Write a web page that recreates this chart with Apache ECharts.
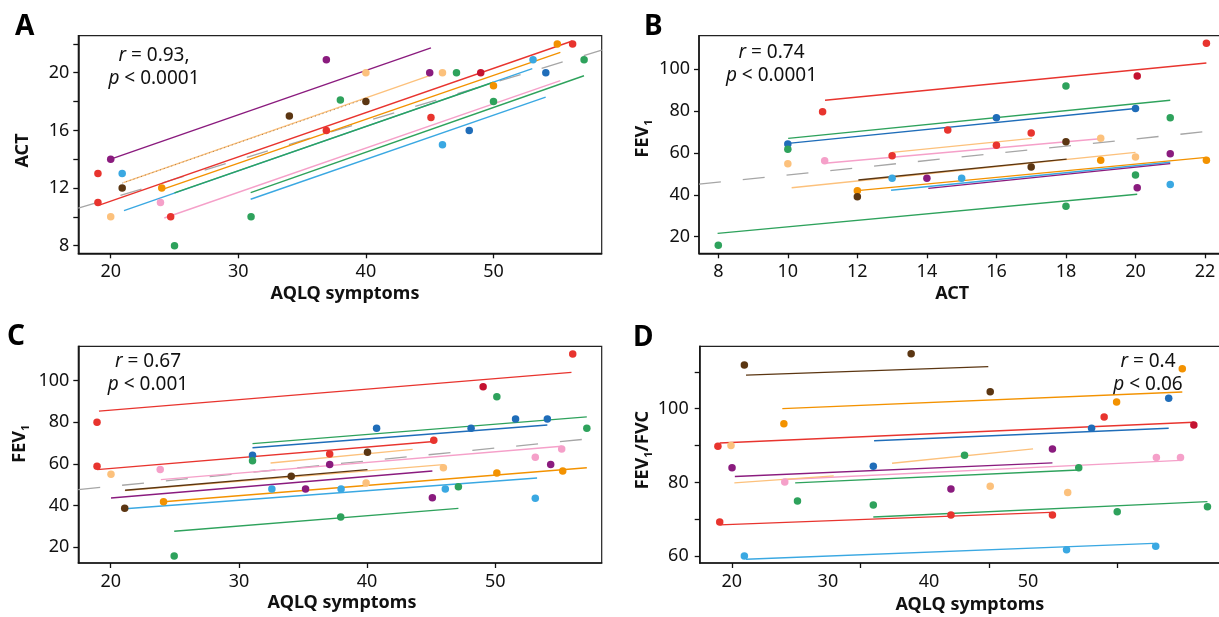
<!DOCTYPE html>
<html><head><meta charset="utf-8">
<script src="https://cdn.jsdelivr.net/npm/echarts@6/dist/echarts.min.js"></script>
<style>html,body{margin:0;padding:0;background:#fff}#c{width:1219px;height:617px}</style>
</head><body><div id="c"></div>
<script>
// ---------- data ----------
// points: [subject-colour group, x, y]
const A_points = [
['red',19,13],['red',19,11],['purple',20,14],['lorange',20,10],['lblue',20.9,13],['brown',20.9,12],['orange',24,12],['pink',23.9,11],['red',24.7,10],['green',25,8],['green',31,10],['brown',34,17],['purple',36.9,20.9],['red',36.9,16],['green',38,18.1],['lorange',40,20],['brown',40,18],['red',45.1,16.9],['purple',45,20],['lorange',46,20],['lblue',46,15],['green',47.1,20],['dblue',48.1,16],['dred',49,20],['orange',50,19.1],['green',50,18],['lblue',53.1,20.9],['dblue',54.1,20],['orange',55,22],['red',56.2,22],['green',57.1,20.9]
];
// fitted lines: [group, x1, y1, x2, y2]
const A_lines = [
['purple',20,14.0,45.1,21.73],['lorange',21.0,12.37,45.1,19.84],['brown',20.9,12.34,40.0,18.2],['red',19.16,10.83,56.18,22.2],['orange',23.94,11.87,55.24,21.41],['lblue',21.04,10.43,53.04,20.28],['green',25.0,11.66,50.0,19.34],['pink',24.2,9.92,55.24,19.45],['green',30.97,11.68,57.09,19.79],['lblue',30.97,11.22,54.09,18.31]
];
const A_overall = [17.46,10.6,58.48,21.57];

const B_points = [
['red',11,79.7],['red',14.6,71],['dblue',10,64.3],['green',10,61.8],['lorange',10,54.9],['pink',11.06,56.3],['red',13,58.7],['lblue',13,47.9],['purple',14,47.9],['lblue',15,47.9],['orange',12,42],['brown',12,39.1],['green',8,15.9],
['red',22.04,112.4],['dred',20.05,96.8],['green',18,92],['dblue',16,76.9],['dblue',20,81.3],['green',21,76.9],['red',17,69.6],['red',16,63.7],['brown',18,65.4],['lorange',19,67],['orange',19,56.5],['lorange',20,58.1],['purple',21,59.7],['orange',22.04,56.5],['brown',17,53.3],['green',20,49.5],['purple',20.05,43.4],['lblue',21,45],['green',18,34.5]
];
const B_lines = [
['red',11.07,85.2,22.04,103.0],['green',10.01,67.0,21.0,85.2],['dblue',10.01,64.6,20.0,81.3],['lorange',13.0,60.3,17.02,67.0],['pink',11.06,55.1,18.98,66.8],['lorange',10.11,43.4,20.0,60.3],['brown',12.03,47.1,18.02,57.1],['orange',12.0,42.0,22.04,57.9],['lblue',12.97,42.2,21.0,55.6],['purple',14.04,43.1,21.0,54.9],['green',7.98,21.6,20.05,40.3]
];
const B_overall = [7.445,45.1,22.5,71.05];

const C_points = [
['red',18.93,80],['red',18.93,58.9],['lorange',20.02,55.1],['pink',23.86,57.3],['dblue',31.06,64.2],['green',31.06,61.6],['red',37.08,64.8],['purple',37.08,59.8],['brown',34.08,54.1],['lblue',32.57,48],['purple',35.2,48],['lblue',37.97,48],['orange',24.12,41.9],['brown',21.09,38.7],['green',37.94,34.6],['green',24.95,15.8],
['red',56.04,112.8],['dred',49.05,97.1],['green',50.12,92.3],['dblue',40.74,77.1],['dblue',48.11,77.1],['dblue',51.58,81.6],['dblue',54.06,81.6],['green',57.14,77.1],['red',45.2,71.4],['brown',40.03,65.6],['pink',53.12,63.2],['pink',55.18,67.2],['purple',54.32,59.8],['lorange',45.95,58.2],['orange',50.12,55.7],['orange',55.26,56.6],['lorange',39.92,50.9],['lblue',46.1,48],['green',47.12,49.1],['purple',45.09,43.8],['lblue',53.12,43.5]
];
const C_lines = [
['red',19.08,85.4,55.94,104.0],['green',31.06,69.75,57.14,82.6],['dblue',31.06,67.8,54.06,78.7],['red',18.93,57.3,45.2,70.8],['lorange',32.47,60.5,43.55,67.0],['pink',23.91,52.5,55.18,68.5],['lorange',21.1,47.2,45.95,59.7],['brown',21.12,47.4,40.03,57.3],['purple',20.02,43.7,45.09,56.6],['orange',24.12,41.9,57.14,58.2],['lblue',21.12,38.5,53.26,53.3],['green',24.95,27.7,47.12,38.7]
];
const C_overall = [17.47,47.7,58.3,72.7];

const D_points = [
['brown',20.94,111.8],['brown',33.94,114.9],['orange',24.02,95.9],['red',18.88,89.8],['lorange',19.9,90],['purple',19.98,84],['dblue',30.99,84.4],['pink',24.09,80.1],['green',25.08,75],['green',30.99,73.9],['purple',37.04,78.2],['red',19.02,69.3],['red',37.04,71.2],['lblue',20.94,60.1],
['orange',55.07,110.8],['brown',40.1,104.6],['orange',49.95,101.8],['dblue',54.01,102.8],['red',48.98,97.75],['dred',55.97,95.6],['dblue',48,94.7],['purple',44.95,89.1],['green',38.1,87.4],['pink',53.05,86.8],['pink',54.93,86.8],['green',47,84],['lorange',40.1,79],['lorange',46.14,77.3],['green',50,72.1],['green',57.03,73.4],['red',44.95,71.2],['lblue',46.05,61.8],['lblue',53,62.7]
];
const D_lines = [
['brown',21.07,109.1,39.95,111.4],['orange',23.9,100.0,55.07,104.5],['red',19.02,90.7,55.97,96.3],['dblue',31.05,91.3,54.01,94.7],['lorange',32.45,85.2,43.44,89.1],['purple',20.2,81.6,44.95,85.3],['pink',24.1,80.8,54.93,86.0],['lorange',20.16,79.9,27.9,81.8],['green',24.9,79.9,47.0,83.4],['green',30.99,70.65,57.03,74.8],['red',19.02,68.5,44.8,71.9],['lblue',21.07,59.2,52.84,63.5]
];

// axis ticks / labels
const A_xTicks = [20,30,40,50];
const A_yTicks = [8,10,12,14,16,18,20,22];
const A_yLabels = [8,12,16,20];
const B_xTicks = [8,10,12,14,16,18,20,22];
const B_yTicks = [20,40,60,80,100];
const C_xTicks = [20,30,40,50];
const C_yTicks = [20,40,60,80,100];
const D_xTicks = [20,30,40,50];
const D_xLabelText = ['20','30','40','50'];
const D_xLabelAt = [19.96,27.45,35.33,43.05];
const D_yTicks = [60,70,80,90,100,110];
const D_yLabels = [60,80,100];

const stats = [
  {panel:'A', r:'0.93,', p:'0.0001'},
  {panel:'B', r:'0.74', p:'0.0001'},
  {panel:'C', r:'0.67', p:'0.001'},
  {panel:'D', r:'0.4', p:'0.06'}
];

// ---------- styles ----------
const COLORS = {red:'#e8342e', dred:'#c41230', purple:'#8a1b7e', lorange:'#fcc17c', orange:'#f39200', brown:'#5b3612', green:'#2ea25c', lblue:'#3aa8e2', dblue:'#1f6db9', pink:'#f5a0c9'};
const FONT = "'Noto Sans', 'DejaVu Sans', sans-serif";
const INK = '#111';

const grids = [
  {left:78.3, top:35.7, width:523.4, height:217.6},
  {left:699, top:35.7, width:523.4, height:217.6},
  {left:78.3, top:346.3, width:523.4, height:216.7},
  {left:699.7, top:346.3, width:523.4, height:216.7}
].map(g => Object.assign(g, {show:true, borderColor:'#222', borderWidth:1.2, backgroundColor:'transparent', outerBoundsMode:'none', containLabel:false}));

const subRich = {s:{fontSize:11, fontWeight:'bold', fontFamily:FONT, color:INK, lineHeight:11, verticalAlign:'bottom'}};

function axis(idx, o) {
  return {
    type:'value', gridIndex:idx, min:o.min, max:o.max,
    name:o.name, nameLocation:'middle', nameGap:o.gap,
    nameTextStyle:{fontSize:18, fontWeight:'bold', fontFamily:FONT, color:INK, padding:o.pad||[0,0,0,0], lineHeight:o.lh||18, rich:subRich},
    axisLine:{show:true, onZero:false, lineStyle:{color:INK, width:1.5}},
    axisTick:{show:true, length:5, lineStyle:{color:INK, width:1.3}, customValues:o.ticks},
    axisLabel:{show:true, customValues:o.labels||o.ticks, color:INK, fontSize:18, fontFamily:FONT, margin:o.margin||10, formatter:o.fmt},
    splitLine:{show:false}
  };
}

const xAxes = [
  axis(0,{min:17.46,max:58.48,ticks:A_xTicks,name:'AQLQ symptoms',gap:32,pad:[0,0,0,10]}),
  axis(1,{min:7.445,max:22.5,ticks:B_xTicks,name:'ACT',gap:32,pad:[0,17,0,0]}),
  axis(2,{min:17.47,max:58.3,ticks:C_xTicks,name:'AQLQ symptoms',gap:31,pad:[0,0,0,4]}),
  axis(3,{min:17.46,max:58.25,ticks:D_xTicks,labels:D_xLabelAt,name:'AQLQ symptoms',gap:32.7,pad:[0,0,0,17],
    fmt:function(v){ for (let i=0;i<D_xLabelAt.length;i++){ if (Math.abs(D_xLabelAt[i]-v)<0.01) return D_xLabelText[i]; } return ''; }})
];
const yAxes = [
  axis(0,{min:7.47,max:22.57,ticks:A_yTicks,labels:A_yLabels,name:'ACT',gap:46,pad:[0,12,0,0],margin:9}),
  axis(1,{min:12.07,max:116.06,ticks:B_yTicks,name:'FEV{s|1}',gap:45,lh:22,pad:[0,0,0,12],margin:9}),
  axis(2,{min:12.46,max:116.5,ticks:C_yTicks,name:'FEV{s|1}',gap:47,lh:22,pad:[0,0,0,22],margin:9}),
  axis(3,{min:58.18,max:116.9,ticks:D_yTicks,labels:D_yLabels,name:'FEV{s|1}/FVC',gap:45,lh:22,pad:[0,0,0,9],margin:11})
];

const series = [];
function addPanel(idx, points, lines, overall, speckledBrown) {
  if (overall) {
    series.push({type:'line', xAxisIndex:idx, yAxisIndex:idx, data:[[overall[0],overall[1]],[overall[2],overall[3]]],
      symbol:'none', silent:true, z:1, lineStyle:{color:'#a6a6a6', width:1.3, type:[22,22]}});
  }
  lines.forEach(l => {
    const speck = speckledBrown && l[0] === 'brown';
    series.push({type:'line', xAxisIndex:idx, yAxisIndex:idx, data:[[l[1],l[2]],[l[3],l[4]]],
      symbol:'none', silent:true, z: speck ? 2.5 : 2,
      lineStyle:{color:COLORS[l[0]], width: speck ? 1 : 1.4, opacity: speck ? 0.55 : 1, type: speck ? [1,3] : 'solid'}});
  });
  series.push({type:'scatter', xAxisIndex:idx, yAxisIndex:idx, z:3, symbolSize:7.5,
    data:points.map(p => [p[1], p[2], p[0]]),
    itemStyle:{color: p => COLORS[p.data[2]], opacity:1}});
}
addPanel(0, A_points, A_lines, A_overall, true);
addPanel(1, B_points, B_lines, B_overall, false);
addPanel(2, C_points, C_lines, C_overall, false);
addPanel(3, D_points, D_lines, null, false);

const statPos = [[154,67],[771.5,64],[148,373.5],[1148,373.5]];
const letterPos = [[15,27],[644,27.5],[7,337.5],[633,338.5]];
const rich = {
  i:{fontStyle:'italic', fontSize:19, fontFamily:FONT, lineHeight:23, fill:INK},
  n:{fontSize:19, fontFamily:FONT, lineHeight:23, fill:INK}
};
const graphic = [];
stats.forEach((s, k) => {
  graphic.push({type:'text', x:statPos[k][0], y:statPos[k][1], silent:true,
    style:{text:'{i|r}{n| = ' + s.r + '}\n{i|p}{n| < ' + s.p + '}', rich:rich, fontSize:19, fontFamily:FONT, lineHeight:23,
      align:'center', verticalAlign:'middle', fill:INK}});
  graphic.push({type:'text', x:letterPos[k][0], y:letterPos[k][1], silent:true,
    style:{text:s.panel, fontSize:28, fontWeight:'bold', fontFamily:FONT, fill:'#000', align:'left', verticalAlign:'middle'}});
});

const chart = echarts.init(document.getElementById('c'), null, {renderer:'canvas'});
chart.setOption({
  animation:false, backgroundColor:'#fff',
  grid:grids, xAxis:xAxes, yAxis:yAxes, series:series, graphic:graphic
});
</script></body></html>
